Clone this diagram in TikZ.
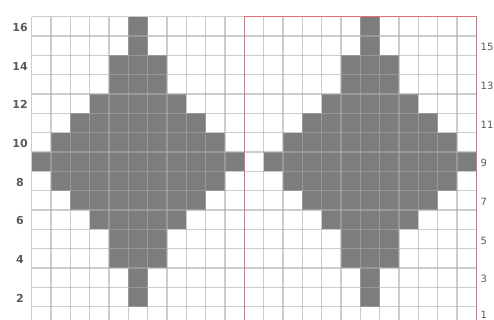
\documentclass[tikz,border=0pt]{standalone}
\usepackage{fontspec}
\setmainfont{DejaVu Sans}
\definecolor{cellgray}{HTML}{7D7D7D}
\definecolor{gridgray}{HTML}{ABABAB}
\definecolor{chartred}{HTML}{E0707A}
\definecolor{labelgray}{HTML}{5A5A5A}
\begin{document}
\begin{tikzpicture}[x=1pt,y=-1pt,
  cellfill/.style={fill=cellgray},
  gridline/.style={draw=gridgray, draw opacity=0.6, line width=1.4pt},
  redframe/.style={draw=chartred, line width=1.5pt},
  leftlabel/.style={text=labelgray, font=\bfseries\fontsize{11}{12}\selectfont, inner sep=0pt, anchor=center},
  rightlabel/.style={text=labelgray, font=\fontsize{10}{12}\selectfont, inner sep=0pt, anchor=west}]
\useasboundingbox (0,0) rectangle (494,320);
\clip (0,0) rectangle (494,320);
\def\xo{31.7}
\def\yo{16.7}
\def\cw{19.33}
% white background
\fill[white] (0,0) rectangle (494,320);
% gray cells: row index / half width
\foreach \r/\h in {0/0,1/0,2/1,3/1,4/2,5/3,6/4,7/5,8/4,9/3,10/2,11/1,12/1,13/0,14/0}{
  \foreach \c in {5,17}{
    \fill[cellfill] ({\xo+(\c-\h)*\cw},{\yo+\r*\cw}) rectangle ({\xo+(\c+\h+1)*\cw},{\yo+(\r+1)*\cw});
  }
}
% grid lines
\foreach \i in {0,...,23}{
  \draw[gridline] ({\xo+\i*\cw},\yo) -- ({\xo+\i*\cw},330);
}
\foreach \j in {0,...,16}{
  \draw[gridline] (\xo,{\yo+\j*\cw}) -- ({\xo+23*\cw},{\yo+\j*\cw});
}
% red frame
\draw[redframe] ({\xo+11*\cw},340) -- ({\xo+11*\cw},\yo) -- ({\xo+23*\cw},\yo) -- ({\xo+23*\cw},340);
% left labels
\foreach \n [evaluate=\n as \r using {16-\n}] in {16,14,12,10,8,6,4,2}{
  \node[leftlabel] (L\n) at (20,{\yo+(\r+0.5)*\cw+1.2}) {\n};
}
% right labels
\foreach \n [evaluate=\n as \r using {16-\n}] in {15,13,11,9,7,5,3}{
  \node[rightlabel] (R\n) at (480.5,{\yo+(\r+0.5)*\cw+1.5}) {\n};
}
\node[rightlabel] (R1) at (480.5,314.5) {1};
\end{tikzpicture}
\end{document}
